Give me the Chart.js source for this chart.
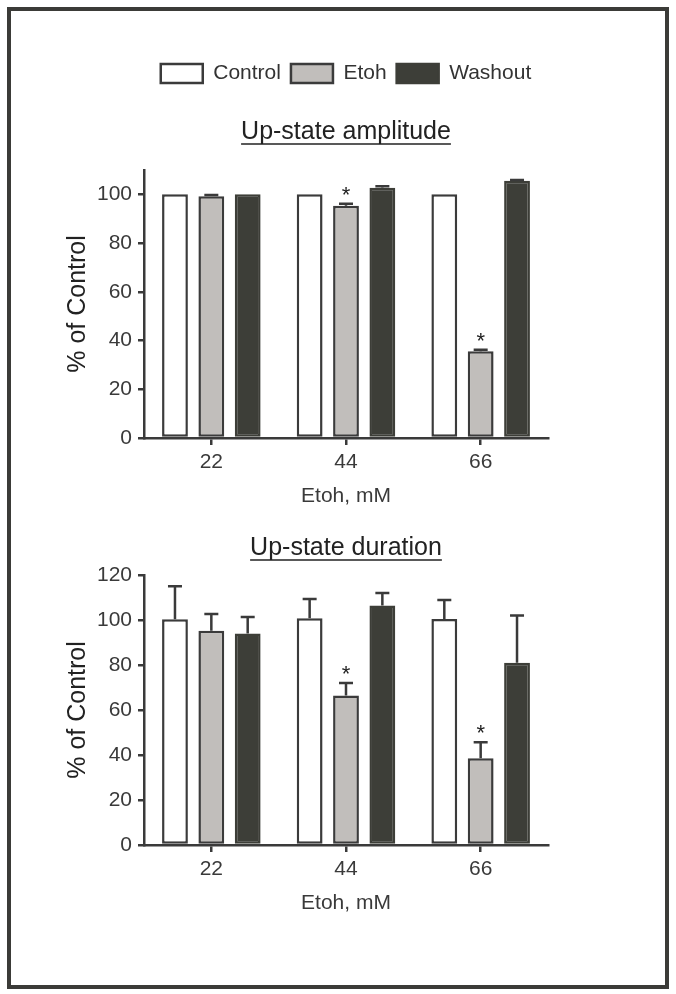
<!DOCTYPE html>
<html>
<head>
<meta charset="utf-8">
<script src="https://cdn.jsdelivr.net/npm/chart.js@4/dist/chart.umd.min.js"></script>
<style>
  body { margin: 0; background: #fff; width: 676px; height: 994px; position: relative; overflow: hidden; }
  .frame { position: absolute; left: 7px; top: 7px; width: 662px; height: 982px; box-sizing: border-box; border: 4px solid #3b3b38; }
  .panel { position: absolute; left: 0; width: 676px; }
  #top { top: 0; height: 513px; }
  #bottom { top: 513px; height: 407px; }
</style>
</head>
<body>
<div class="frame"></div>
<div class="panel" id="top"><canvas id="ampChart"></canvas></div>
<div class="panel" id="bottom"><canvas id="durChart"></canvas></div>
<script>
var doses = ['22', '44', '66'];
var groups = ['Control', 'Etoh', 'Washout'];

// Up-state amplitude, % of control (mean and upper SEM)
var ampControl = [100, 100, 100];
var ampEtoh = [99.2, 95.3, 35.6];
var ampWashout = [100, 102.7, 105.6];
var ampControlErr = [0, 0, 0];
var ampEtohErr = [0.5, 0.8, 0.6];
var ampWashoutErr = [0, 0.6, 0.3];
var ampSig = [[0, 0, 0], [0, 1, 1], [0, 0, 0]];

// Up-state duration, % of control
var durControl = [100.3, 100.8, 100.4];
var durEtoh = [95.2, 66.4, 38.6];
var durWashout = [94, 106.4, 81];
var durControlErr = [14.7, 8.5, 8.5];
var durEtohErr = [7.5, 5.6, 7.1];
var durWashoutErr = [7.3, 5.6, 21];
var durSig = [[0, 0, 0], [0, 1, 1], [0, 0, 0]];

var ampTicks = [0, 20, 40, 60, 80, 100];
var durTicks = [0, 20, 40, 60, 80, 100, 120];

var ink = '#3a3a3a';
var fills = ['#ffffff', '#c1bebb', '#3d3e38'];
var edges = ['#3b3b3b', '#3b3b3b', '#3d3e38'];

Chart.defaults.font.family = '"Liberation Sans", Arial, sans-serif';
Chart.defaults.color = ink;

// one-sided SEM bars plus significance stars
var errorBars = {
    id: 'errorBars',
    afterDatasetsDraw: function (chart, args, opts) {
        var ctx = chart.ctx;
        var y = chart.scales.y;
        ctx.save();
        ctx.strokeStyle = ink;
        ctx.fillStyle = '#222';
        ctx.lineWidth = 2.5;
        chart.data.datasets.forEach(function (ds, i) {
            var meta = chart.getDatasetMeta(i);
            meta.data.forEach(function (bar, j) {
                var err = opts.err[i][j];
                var top = y.getPixelForValue(ds.data[j] + err);
                if (err > 0) {
                    ctx.beginPath();
                    ctx.moveTo(bar.x, bar.y);
                    ctx.lineTo(bar.x, top);
                    ctx.moveTo(bar.x - 7, top);
                    ctx.lineTo(bar.x + 7, top);
                    ctx.stroke();
                }
                if (opts.sig[i][j]) {
                    ctx.font = '22px "Liberation Sans", Arial, sans-serif';
                    ctx.textAlign = 'center';
                    ctx.textBaseline = 'alphabetic';
                    ctx.fillText('*', bar.x, top - 2);
                }
            });
        });
        ctx.restore();
    }
};

// underline under the chart title
var titleUnderline = {
    id: 'titleUnderline',
    afterDraw: function (chart) {
        var t = chart.titleBlock;
        if (!t || !t.options.display) return;
        var ctx = chart.ctx;
        var size = t.options.font.size;
        ctx.save();
        ctx.font = size + 'px "Liberation Sans", Arial, sans-serif';
        var w = ctx.measureText(t.options.text).width;
        var cx = (t.left + t.right) / 2;
        var cy = t.top + t.options.padding.top + size * 0.6 + 12;
        ctx.strokeStyle = '#222';
        ctx.lineWidth = 1.5;
        ctx.beginPath();
        ctx.moveTo(cx - w / 2, cy);
        ctx.lineTo(cx + w / 2, cy);
        ctx.stroke();
        ctx.restore();
    }
};

function makeSets(a, b, c) {
    return [a, b, c].map(function (vals, i) {
        return {
            label: groups[i],
            data: vals,
            backgroundColor: fills[i],
            borderColor: edges[i],
            borderWidth: 2.5,
            borderSkipped: false,
            barPercentage: 0.71,
            categoryPercentage: 0.81
        };
    });
}

function makeOptions(title, tickVals, maxVal, showLegend, titlePad, padTop, err, sig) {
    return {
        responsive: true,
        maintainAspectRatio: false,
        animation: false,
        layout: { padding: { left: 59, right: 128, top: padTop, bottom: 0 } },
        plugins: {
            legend: {
                display: showLegend,
                fullSize: false,
                weight: 1000,
                labels: {
                    boxWidth: 42, boxHeight: 19, padding: 10,
                    font: { size: 21 }, color: '#333'
                }
            },
            title: {
                display: true,
                fullSize: false,
                weight: 500,
                text: title,
                color: '#222',
                font: { size: 25, weight: 'normal' },
                padding: titlePad
            },
            tooltip: { enabled: false },
            errorBars: { err: err, sig: sig }
        },
        scales: {
            x: {
                grid: { display: true, drawOnChartArea: false, offset: false, tickLength: 7, color: ink, lineWidth: 2.5 },
                border: { display: true, color: ink, width: 2.5 },
                ticks: { font: { size: 21 }, color: ink, padding: 5 },
                title: { display: true, text: 'Etoh, mM', font: { size: 21 }, color: ink },
                afterFit: function (s) { s.height = 75; }
            },
            y: {
                min: 0,
                max: maxVal,
                afterBuildTicks: function (s) {
                    s.ticks = tickVals.map(function (v) { return { value: v }; });
                },
                grid: { display: true, drawOnChartArea: false, tickLength: 6, color: ink, lineWidth: 2.5 },
                border: { display: true, color: ink, width: 2.5 },
                ticks: { font: { size: 21 }, color: ink, padding: 6 },
                title: { display: true, text: '% of Control', font: { size: 25 }, color: '#222' },
                afterFit: function (s) { s.width = 85; }
            }
        }
    };
}

new Chart(document.getElementById('ampChart').getContext('2d'), {
    type: 'bar',
    data: { labels: doses, datasets: makeSets(ampControl, ampEtoh, ampWashout) },
    options: makeOptions('Up-state amplitude', ampTicks, 110, true, { top: 23, bottom: 23 }, 53,
        [ampControlErr, ampEtohErr, ampWashoutErr], ampSig),
    plugins: [errorBars, titleUnderline]
});

new Chart(document.getElementById('durChart').getContext('2d'), {
    type: 'bar',
    data: { labels: doses, datasets: makeSets(durControl, durEtoh, durWashout) },
    options: makeOptions('Up-state duration', durTicks, 120, false, { top: 10, bottom: 12 }, 10,
        [durControlErr, durEtohErr, durWashoutErr], durSig),
    plugins: [errorBars, titleUnderline]
});
</script>
</body>
</html>
